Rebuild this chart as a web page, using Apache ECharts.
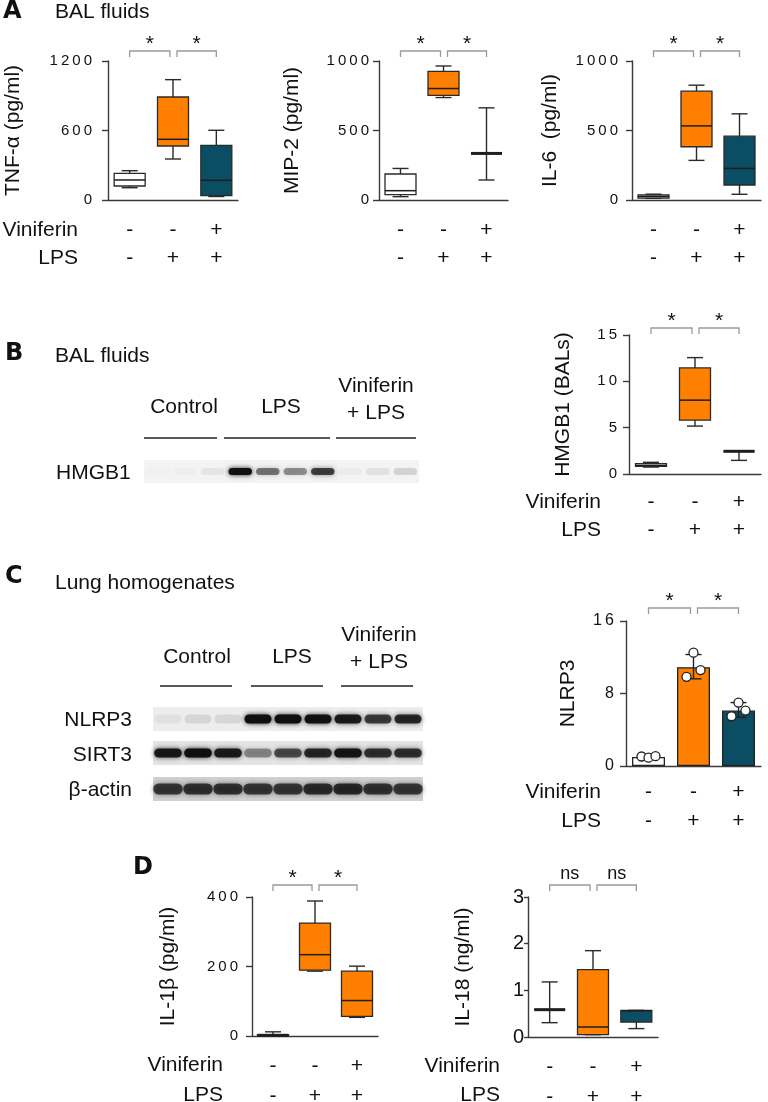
<!DOCTYPE html>
<html><head><meta charset="utf-8">
<script src="https://cdn.jsdelivr.net/npm/echarts@6/dist/echarts.min.js"></script>
<style>html,body{margin:0;padding:0;background:#fff}#c{width:768px;height:1102px}</style>
</head><body><div id="c"></div>
<script>
// ---------------- DATA ----------------
const groups = ['Control', 'LPS', 'Viniferin + LPS'];
const viniferinSigns = ['-', '-', '+'];
const lpsSigns = ['-', '+', '+'];

// box plots: [min, Q1, median, Q3, max]
const tnfBoxes  = [[106,121,173,230,253],[354,466,524,889,1039],[30,37,170,472,602]];
const tnfTicks  = [0, 600, 1200];
const mip2Boxes = [[24,38,67,187,227],[737,752,802,926,964],[144,335,335,335,663]];
const mip2Ticks = [0, 500, 1000];
const il6Boxes  = [[12,14,24,36,42],[285,383,533,783,826],[41,108,227,459,620]];
const il6Ticks  = [0, 500, 1000];
const hmgb1Boxes = [[0.75,0.83,0.93,1.11,1.26],[5.17,5.81,7.97,11.45,12.56],[1.47,2.45,2.45,2.45,2.51]];
const hmgb1Ticks = [0, 5, 10, 15];
const il1bBoxes = [[0,1,2,4,12],[186.6,189.5,234,325,388.5],[53.6,56.5,102,186.6,201]];
const il1bTicks = [0, 200, 400];
const il18Boxes = [[0.307,0.586,0.586,0.586,1.18],[0.05,0.05,0.214,1.443,1.85],[0.18,0.32,0.56,0.571,0.571]];
const il18Ticks = [0, 1, 2, 3];

// NLRP3 bars (mean, SD range, individual points)
const nlrp3Mean = [1.0, 10.9, 6.12];
const nlrp3Low  = [0.9, 9.62, 5.38];
const nlrp3High = [1.1, 12.3, 7.0];
const nlrp3Points = [[1.05, 0.92, 1.08], [9.84, 12.5, 10.58], [5.49, 7.0, 6.12]];
const nlrp3Ticks = [0, 8, 16];

// significance labels (Control vs LPS, LPS vs Viniferin+LPS)
const sigStar = ['*', '*'];
const sigNs = ['ns', 'ns'];

// western blot band intensities (0..1)
const hmgb1Blot = [0.01, 0.02, 0.06, 1.0, 0.5, 0.4, 0.72, 0.03, 0.08, 0.13];
const nlrp3Blot = [0.05, 0.1, 0.09, 1.0, 1.0, 0.98, 0.9, 0.72, 0.82];
const sirt3Blot = [0.92, 1.0, 0.9, 0.4, 0.65, 0.82, 0.95, 0.78, 0.78];
const actinBlot = [0.72, 0.75, 0.75, 0.72, 0.72, 0.78, 0.8, 0.74, 0.72];

// ---------------- STYLE ----------------
const FONT = 'Liberation Sans';
const ORANGE = '#ff8000', TEAL = '#0b4d62', WHITE = '#ffffff';
const AXIS = '#3a3a3a', INK = '#111';
const colorsA = [WHITE, ORANGE, TEAL];
const colorsD1 = [WHITE, ORANGE, ORANGE];

const spaced = v => String(v).split('').join('\u2009');

// ---------------- HELPERS ----------------
const grids = [], xAxes = [], yAxes = [], series = [];

function addGrid(g) { grids.push(Object.assign({ outerBoundsMode: 'none', containLabel: false }, g)); return grids.length - 1; }

function addChartAxes(gi, ticks, name, nameGap, opt) {
  opt = opt || {};
  xAxes.push({
    type: 'category', gridIndex: gi, data: groups, boundaryGap: true,
    axisLine: { lineStyle: { color: AXIS, width: 1.4 } },
    axisTick: { alignWithLabel: true, length: 6, lineStyle: { color: AXIS, width: 1.4 } },
    axisLabel: {
      interval: 0, margin: opt.rowMargin || 14, lineHeight: opt.rowLH || 28,
      fontFamily: FONT, fontSize: 21, color: INK,
      formatter: (v, i) => viniferinSigns[i] + '\n' + lpsSigns[i]
    }
  });
  yAxes.push({
    type: 'value', gridIndex: gi, min: ticks[0], max: ticks[ticks.length - 1], interval: ticks[1] - ticks[0],
    splitLine: { show: false },
    axisLine: { show: true, lineStyle: { color: AXIS, width: 1.4 } },
    axisTick: { show: true, length: opt.tickLen || 6, lineStyle: { color: AXIS, width: 1.4 } },
    axisLabel: {
      fontFamily: FONT, fontSize: opt.labelSize || 15, color: INK, margin: opt.labelMargin || 12,
      formatter: opt.plainLabels ? (v => String(v)) : spaced
    },
    name: name, nameLocation: 'middle', nameGap: nameGap,
    nameTextStyle: { fontFamily: FONT, fontSize: 21, color: INK }
  });
  return xAxes.length - 1;
}

function boxRender(colors) {
  return function (params, api) {
    const i = params.dataIndex;
    const cx = api.coord([api.value(0), 0])[0];
    const y = k => api.coord([api.value(0), api.value(k)])[1];
    const yMin = y(1), yQ1 = y(2), yMed = y(3), yQ3 = y(4), yMax = y(5);
    const w = 31, cap = 16;
    const collapsed = Math.abs(yQ1 - yQ3) < 1.5;
    const ls = { stroke: '#2a2a2a', lineWidth: 1.4 };
    return {
      type: 'group', children: [
        { type: 'line', shape: { x1: cx, y1: yMax, x2: cx, y2: yQ3 }, style: ls },
        { type: 'line', shape: { x1: cx, y1: yQ1, x2: cx, y2: yMin }, style: ls },
        { type: 'line', shape: { x1: cx - cap / 2, y1: yMax, x2: cx + cap / 2, y2: yMax }, style: ls },
        { type: 'line', shape: { x1: cx - cap / 2, y1: yMin, x2: cx + cap / 2, y2: yMin }, style: ls },
        { type: 'rect', shape: { x: cx - w / 2, y: yQ3, width: w, height: Math.max(yQ1 - yQ3, 0) },
          style: { fill: colors[i], stroke: '#2a2a2a', lineWidth: 1.3 } },
        { type: 'line', shape: { x1: cx - w / 2, y1: yMed, x2: cx + w / 2, y2: yMed },
          style: { stroke: '#1e1e1e', lineWidth: collapsed ? 3 : 1.5 } }
      ]
    };
  };
}

function bracketRender(labels, gap) {
  return function (params, api) {
    const i = params.dataIndex;
    const cs = params.coordSys;
    const xa = api.coord([api.value(0), 0])[0] + (i === 1 ? 4 : 0);
    const xb = api.coord([api.value(1), 0])[0] - (i === 0 ? 3 : 0);
    const yb = cs.y - gap;
    const star = labels[i] === '*';
    return {
      type: 'group', children: [
        { type: 'polyline', shape: { points: [[xa, yb + 6], [xa, yb], [xb, yb], [xb, yb + 6]] },
          style: { stroke: '#9a9a9a', lineWidth: 1.3, fill: null } },
        { type: 'text', style: { text: labels[i], x: (xa + xb) / 2, y: yb + (star ? 4 : -2),
          align: 'center', verticalAlign: 'bottom', fontFamily: FONT, fontSize: star ? 21 : 18, fill: INK } }
      ]
    };
  };
}

function addBoxChart(gi, boxes, colors, sig, gap) {
  series.push({
    type: 'custom', xAxisIndex: gi, yAxisIndex: gi, clip: false, z: 4,
    renderItem: boxRender(colors),
    encode: { x: 0, y: [1, 2, 3, 4, 5] },
    data: boxes.map((b, i) => [i].concat(b))
  });
  series.push({
    type: 'custom', xAxisIndex: gi, yAxisIndex: gi, clip: false, silent: true,
    renderItem: bracketRender(sig, gap),
    encode: { x: 0 },
    data: [[0, 1], [1, 2]]
  });
}

function bandRender(bandH, widthFrac) {
  return function (params, api) {
    const c = api.coord([api.value(0), 0.5]);
    const w = api.size([1, 0])[0] * widthFrac;
    const v = api.value(1);
    return {
      type: 'rect', shape: { x: c[0] - w / 2, y: c[1] - bandH / 2, width: w, height: bandH, r: bandH / 2 },
      style: { fill: 'rgba(15,15,15,' + v + ')', shadowBlur: 5, shadowColor: 'rgba(15,15,15,' + (v * 0.9) + ')' }
    };
  };
}

function addBlot(g, intensities, bg, bandH, widthFrac) {
  const gi = addGrid(Object.assign({ show: true, backgroundColor: bg, borderWidth: 0 }, g));
  xAxes.push({ type: 'category', gridIndex: gi, data: intensities.map((v, i) => 'lane' + (i + 1)), show: false });
  yAxes.push({ type: 'value', gridIndex: gi, min: 0, max: 1, show: false });
  const ai = xAxes.length - 1;
  series.push({
    type: 'custom', xAxisIndex: ai, yAxisIndex: ai, silent: true,
    renderItem: bandRender(bandH, widthFrac),
    encode: { x: 0, y: 1 },
    data: intensities.map((v, i) => [i, v])
  });
}

// ---------------- PANELS ----------------
// A
let g;
g = addGrid({ left: 108, top: 61, width: 130, height: 139 });
addChartAxes(g, tnfTicks, 'TNF-α (pg/ml)', 84, { rowMargin: 16, labelMargin: 16 });
addBoxChart(g, tnfBoxes, colorsA, sigStar, 10);

g = addGrid({ left: 379, top: 61, width: 129, height: 139 });
addChartAxes(g, mip2Ticks, 'MIP-2 (pg/ml)', 76, { rowMargin: 16, labelMargin: 10 });
addBoxChart(g, mip2Boxes, colorsA, sigStar, 10);

g = addGrid({ left: 632, top: 61, width: 129, height: 139 });
addChartAxes(g, il6Ticks, 'IL-6  (pg/ml)', 71, { rowMargin: 16, labelMargin: 14 });
addBoxChart(g, il6Boxes, colorsA, sigStar, 10);

// B
g = addGrid({ left: 629, top: 335, width: 132, height: 139 });
addChartAxes(g, hmgb1Ticks, 'HMGB1 (BALs)', 55, { rowMargin: 14 });
addBoxChart(g, hmgb1Boxes, colorsA, sigStar, 7);

// C (bar chart)
g = addGrid({ left: 626, top: 621, width: 135, height: 145 });
addChartAxes(g, nlrp3Ticks, 'NLRP3', 47, { rowMargin: 12, rowLH: 29, labelSize: 16 });
series.push({
  type: 'bar', xAxisIndex: g, yAxisIndex: g, barWidth: 33, silent: true, z: 2,
  data: nlrp3Mean.map((v, i) => ({ value: v, itemStyle: { color: colorsA[i], borderColor: '#222', borderWidth: 1.3 } }))
});
series.push({
  type: 'custom', xAxisIndex: g, yAxisIndex: g, clip: false, silent: true, z: 5,
  encode: { x: 0, y: [1, 2] },
  data: nlrp3Low.map((v, i) => [i, v, nlrp3High[i]]),
  renderItem: function (params, api) {
    const cx = api.coord([api.value(0), 0])[0];
    const y1 = api.coord([api.value(0), api.value(1)])[1];
    const y2 = api.coord([api.value(0), api.value(2)])[1];
    const ls = { stroke: '#222', lineWidth: 1.4 };
    return { type: 'group', children: [
      { type: 'line', shape: { x1: cx, y1: y1, x2: cx, y2: y2 }, style: ls },
      { type: 'line', shape: { x1: cx - 8, y1: y1, x2: cx + 8, y2: y1 }, style: ls },
      { type: 'line', shape: { x1: cx - 8, y1: y2, x2: cx + 8, y2: y2 }, style: ls }
    ] };
  }
});
series.push({
  type: 'custom', xAxisIndex: g, yAxisIndex: g, clip: false, silent: true, z: 6,
  encode: { x: 0, y: 1 },
  data: [].concat.apply([], nlrp3Points.map((pts, i) => pts.map((v, k) => [i, v, k, pts.length]))),
  renderItem: function (params, api) {
    const p = api.coord([api.value(0), api.value(1)]);
    const off = (api.value(2) - (api.value(3) - 1) / 2) * 7;
    return { type: 'circle', shape: { cx: p[0] + off, cy: p[1], r: 4.5 },
      style: { fill: '#fff', stroke: '#222', lineWidth: 1.3 } };
  }
});
series.push({
  type: 'custom', xAxisIndex: g, yAxisIndex: g, clip: false, silent: true,
  renderItem: bracketRender(sigStar, 13), encode: { x: 0 }, data: [[0, 1], [1, 2]]
});

// D
g = addGrid({ left: 252, top: 897, width: 126, height: 139 });
addChartAxes(g, il1bTicks, 'IL-1β (pg/ml)', 73, { rowMargin: 15, rowLH: 30, labelMargin: 14 });
addBoxChart(g, il1bBoxes, colorsD1, sigStar, 12);

g = addGrid({ left: 528, top: 897, width: 130, height: 140 });
addChartAxes(g, il18Ticks, 'IL-18 (ng/ml)', 54, { rowMargin: 15, rowLH: 30, labelSize: 20, plainLabels: true, tickLen: 4, labelMargin: 4 });
addBoxChart(g, il18Boxes, colorsA, sigNs, 12);

// Blots
addBlot({ left: 144, top: 460, width: 275, height: 23 }, hmgb1Blot, '#f3f3f3', 7, 0.85);
addBlot({ left: 153, top: 707, width: 270, height: 24 }, nlrp3Blot, '#ededed', 9, 0.9);
addBlot({ left: 153, top: 741, width: 270, height: 24 }, sirt3Blot, '#e4e4e4', 9, 0.92);
addBlot({ left: 153, top: 777, width: 270, height: 24 }, actinBlot, '#d0d0d0', 11, 0.98);

// ---------------- TEXT / ANNOTATIONS ----------------
function txt(text, x, y, opts) {
  return Object.assign({ type: 'text', x: x, y: y,
    style: Object.assign({ text: text, fontFamily: FONT, fontSize: 21, fill: INK, align: 'left', verticalAlign: 'middle' }, (opts || {})) });
}
function letter(t, x, y) { return txt(t, x, y, { fontSize: 24, fontWeight: 'bold', fontFamily: 'DejaVu Sans' }); }
function hline(x1, x2, y) {
  return { type: 'line', shape: { x1: x1, y1: y, x2: x2, y2: y }, style: { stroke: '#222', lineWidth: 1.3 } };
}
const graphics = [
  letter('A', 3, 12), txt('BAL fluids', 55, 12),
  txt('Viniferin', 78, 230, { align: 'right' }), txt('LPS', 78, 258, { align: 'right' }),

  letter('B', 5, 354), txt('BAL fluids', 55, 356),
  txt('Control', 184, 407, { align: 'center' }), txt('LPS', 281, 407, { align: 'center' }),
  txt('Viniferin', 376, 386, { align: 'center' }), txt('+ LPS', 376, 413, { align: 'center' }),
  hline(144, 217, 438), hline(224, 330, 438), hline(336, 416, 438),
  txt('HMGB1', 56, 473),
  txt('Viniferin', 601, 502, { align: 'right' }), txt('LPS', 601, 530, { align: 'right' }),

  letter('C', 5, 577), txt('Lung homogenates', 55, 583),
  txt('Control', 197, 657, { align: 'center' }), txt('LPS', 292, 657, { align: 'center' }),
  txt('Viniferin', 379, 635, { align: 'center' }), txt('+ LPS', 379, 662, { align: 'center' }),
  hline(160, 232, 686), hline(251, 323, 686), hline(341, 413, 686),
  txt('NLRP3', 132, 720, { align: 'right' }), txt('SIRT3', 132, 755, { align: 'right' }), txt('β-actin', 132, 790, { align: 'right' }),
  txt('Viniferin', 601, 792, { align: 'right' }), txt('LPS', 601, 821, { align: 'right' }),

  letter('D', 133, 868),
  txt('Viniferin', 223, 1065, { align: 'right' }), txt('LPS', 223, 1095, { align: 'right' }),
  txt('Viniferin', 500, 1066, { align: 'right' }), txt('LPS', 500, 1095, { align: 'right' })
];

const chart = echarts.init(document.getElementById('c'), null, { renderer: 'canvas' });
chart.setOption({
  animation: false,
  backgroundColor: '#fff',
  textStyle: { fontFamily: FONT },
  grid: grids, xAxis: xAxes, yAxis: yAxes, series: series,
  graphic: graphics
});
</script></body></html>
